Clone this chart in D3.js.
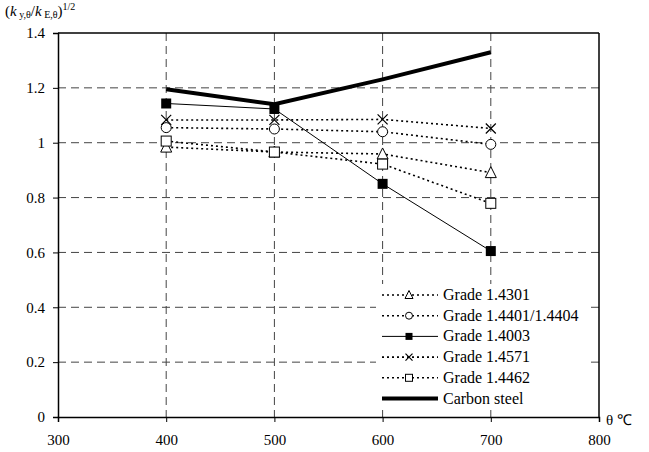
<!DOCTYPE html>
<html>
<head>
<meta charset="utf-8">
<script src="https://cdn.jsdelivr.net/npm/d3@7"></script>
<style>
  body { margin: 0; background: #fff; }
  text { font-family: 'Liberation Serif', serif; }
</style>
</head>
<body>
<div id="chart"></div>
<script>
// Temperatures (x) and series values
const temps = [400, 500, 600, 700];
const grade14301 = [0.984, 0.966, 0.959, 0.891];
const grade14401 = [1.055, 1.050, 1.040, 0.994];
const grade14003 = [1.143, 1.123, 0.850, 0.605];
const grade14571 = [1.083, 1.083, 1.085, 1.052];
const grade14462 = [1.006, 0.966, 0.922, 0.779];
const carbonSteel = [1.195, 1.140, 1.231, 1.330];
const xTicks = [300, 400, 500, 600, 700, 800];
const yTicks = [0, 0.2, 0.4, 0.6, 0.8, 1, 1.2, 1.4];

const series = [
  { name: "Grade 1.4301", values: grade14301, marker: "triangle", dash: "2,3", width: 1.6 },
  { name: "Grade 1.4401/1.4404", values: grade14401, marker: "circle", dash: "2,3", width: 1.6 },
  { name: "Grade 1.4003", values: grade14003, marker: "filledSquare", dash: null, width: 1 },
  { name: "Grade 1.4571", values: grade14571, marker: "cross", dash: "2,3", width: 1.6 },
  { name: "Grade 1.4462", values: grade14462, marker: "square", dash: "2,3", width: 1.6 },
  { name: "Carbon steel", values: carbonSteel, marker: null, dash: null, width: 4 }
];

const width = 649, height = 452;
const margin = { top: 33, left: 58 };
const innerW = 599 - margin.left;
const innerH = 417 - margin.top;

const svg = d3.select("#chart").append("svg")
  .attr("width", width).attr("height", height);
const g = svg.append("g").attr("transform", `translate(${margin.left},${margin.top})`);

const x = d3.scaleLinear().domain([300, 800]).range([0, innerW]);
const y = d3.scaleLinear().domain([0, 1.4]).range([innerH, 0]);

// Grid
g.append("g").selectAll("line")
  .data(yTicks.filter(d => d > 0 && d < 1.4))
  .join("line")
  .attr("x1", 0).attr("x2", innerW)
  .attr("y1", d => y(d)).attr("y2", d => y(d))
  .attr("stroke", "#444").attr("stroke-dasharray", "8,5").attr("stroke-width", 1);
g.append("g").selectAll("line")
  .data(xTicks.filter(d => d > 300 && d < 800))
  .join("line")
  .attr("y1", 0).attr("y2", innerH)
  .attr("x1", d => x(d)).attr("x2", d => x(d))
  .attr("stroke", "#444").attr("stroke-dasharray", "8,5").attr("stroke-width", 1);

// Frame top/right
g.append("line").attr("x1", 0).attr("x2", innerW).attr("y1", 0).attr("y2", 0)
  .attr("stroke", "#000").attr("stroke-width", 1.5);
g.append("line").attr("x1", innerW).attr("x2", innerW).attr("y1", 0).attr("y2", innerH)
  .attr("stroke", "#000").attr("stroke-width", 1.5);

// Axes
const xAxis = g.append("g").attr("transform", `translate(0,${innerH})`)
  .call(d3.axisBottom(x).tickValues(xTicks).tickSize(5).tickPadding(12).tickFormat(d3.format("d")));
const yAxis = g.append("g")
  .call(d3.axisLeft(y).tickValues(yTicks).tickSize(5).tickPadding(8).tickFormat(d => d3.format("")(d)));
[xAxis, yAxis].forEach(a => {
  a.attr("font-family", null).attr("font-size", 15);
  a.select(".domain").attr("stroke-width", 1.5);
});

// Marker drawing
function drawMarker(sel, type, cx, cy, s) {
  const h = s / 2;
  if (type === "triangle") {
    sel.append("path").attr("d", `M${cx},${cy - h - 1}L${cx + h + 0.5},${cy + h}L${cx - h - 0.5},${cy + h}Z`)
      .attr("fill", "#fff").attr("stroke", "#000").attr("stroke-width", 1);
  } else if (type === "circle") {
    sel.append("circle").attr("cx", cx).attr("cy", cy).attr("r", h)
      .attr("fill", "#fff").attr("stroke", "#000").attr("stroke-width", 1);
  } else if (type === "filledSquare") {
    sel.append("rect").attr("x", cx - h).attr("y", cy - h).attr("width", s).attr("height", s)
      .attr("fill", "#000");
  } else if (type === "square") {
    sel.append("rect").attr("x", cx - h).attr("y", cy - h).attr("width", s).attr("height", s)
      .attr("fill", "#fff").attr("stroke", "#000").attr("stroke-width", 1);
  } else if (type === "cross") {
    sel.append("path").attr("d", `M${cx - h},${cy - h}L${cx + h},${cy + h}M${cx - h},${cy + h}L${cx + h},${cy - h}`)
      .attr("stroke", "#000").attr("stroke-width", 1.2);
  }
}

// Lines
const line = d3.line().x(d => x(d[0])).y(d => y(d[1]));
series.forEach(s => {
  const pts = temps.map((t, i) => [t, s.values[i]]);
  g.append("path").datum(pts)
    .attr("fill", "none").attr("stroke", "#000")
    .attr("stroke-width", s.width)
    .attr("stroke-dasharray", s.dash)
    .attr("d", line);
});
// Markers
series.forEach(s => {
  if (!s.marker) return;
  const mg = g.append("g");
  temps.forEach((t, i) => drawMarker(mg, s.marker, x(t), y(s.values[i]), 10));
});

// Legend
const legend = svg.append("g");
legend.append("rect").attr("x", 376).attr("y", 284).attr("width", 212).attr("height", 126).attr("fill", "#fff");
series.forEach((s, i) => {
  const ly = 295 + i * 20.7;
  legend.append("line").attr("x1", 382).attr("x2", 438).attr("y1", ly).attr("y2", ly)
    .attr("stroke", "#000").attr("stroke-width", s.width).attr("stroke-dasharray", s.dash);
  if (s.marker) drawMarker(legend, s.marker, 409, ly, 7);
  legend.append("text").attr("x", 443).attr("y", ly + 5)
    .attr("font-size", 16).text(s.name);
});

// Axis titles
const yt = svg.append("text").attr("x", 5).attr("y", 16).attr("font-size", 15);
yt.append("tspan").text("(");
yt.append("tspan").attr("font-style", "italic").text("k");
yt.append("tspan").attr("font-size", 10).attr("dy", 2).text(" y,θ");
yt.append("tspan").attr("dy", -2).text("/");
yt.append("tspan").attr("font-style", "italic").text("k");
yt.append("tspan").attr("font-size", 10).attr("dy", 2).text(" E,θ");
yt.append("tspan").attr("dy", -2).text(")");
yt.append("tspan").attr("font-size", 10).attr("dy", -6).text("1/2");

svg.append("text").attr("x", 606).attr("y", 425).attr("font-size", 15).text("θ ℃");
</script>
</body>
</html>
